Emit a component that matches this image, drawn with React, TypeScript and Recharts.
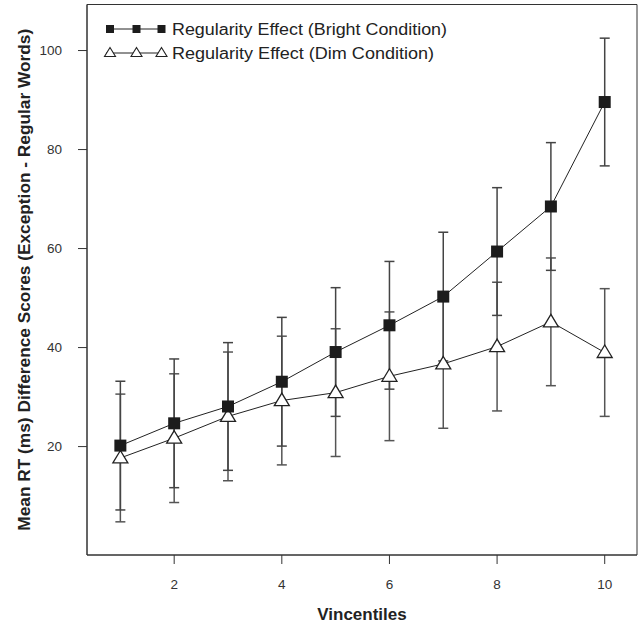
import React from 'react';
import { LineChart, Line, XAxis, YAxis, ErrorBar, ReferenceArea } from 'recharts';

const vincentiles = [1, 2, 3, 4, 5, 6, 7, 8, 9, 10];
const bright = [20.2, 24.7, 28.1, 33.1, 39.1, 44.5, 50.3, 59.4, 68.5, 89.6];
const brightErr = [13.0, 13.0, 12.9, 13.0, 13.0, 12.9, 13.0, 12.9, 12.9, 12.9];
const dim = [17.7, 21.7, 26.1, 29.3, 30.9, 34.2, 36.7, 40.2, 45.2, 39.0];
const dimErr = [12.9, 13.0, 13.0, 13.0, 12.9, 13.0, 13.0, 13.0, 12.9, 12.9];
const xTicks = [2, 4, 6, 8, 10];
const yTicks = [20, 40, 60, 80, 100];

const data = vincentiles.map((v, i) => ({
  v,
  bright: bright[i],
  brightErr: brightErr[i],
  dim: dim[i],
  dimErr: dimErr[i],
}));

const FONT = 'Arial, "Liberation Sans", sans-serif';
const INK = '#222';

function SquareDot(props: any) {
  const { cx, cy, index } = props;
  if (cx == null || cy == null) return null;
  return <rect key={`s-${index}`} x={cx - 6} y={cy - 6} width={12} height={12} fill="#1c1c1c" />;
}

function TriangleDot(props: any) {
  const { cx, cy, index } = props;
  if (cx == null || cy == null) return null;
  return (
    <polygon
      key={`t-${index}`}
      points={`${cx},${cy - 7.5} ${cx - 7.5},${cy + 5} ${cx + 7.5},${cy + 5}`}
      fill="#fff"
      stroke={INK}
      strokeWidth={1.3}
    />
  );
}

function LegendBox() {
  return (
    <svg width={520} height={70} style={{ position: 'absolute', left: 0, top: 0 }}>
      <line x1={106} x2={162} y1={29} y2={29} stroke={INK} strokeWidth={1} />
      {[110, 136.5, 161.5].map((x) => (
        <rect key={x} x={x - 4} y={25} width={8} height={8} fill="#1c1c1c" />
      ))}
      <line x1={106} x2={162} y1={53} y2={53} stroke={INK} strokeWidth={1} />
      {[110, 136.5, 161.5].map((x) => (
        <polygon
          key={x}
          points={`${x},${47.5} ${x - 5.5},${56.5} ${x + 5.5},${56.5}`}
          fill="#fff"
          stroke={INK}
          strokeWidth={1.1}
        />
      ))}
      <text x={172} y={35} fontSize={16} fontFamily={FONT} fill={INK} textLength={275} lengthAdjust="spacingAndGlyphs">
        Regularity Effect (Bright Condition)
      </text>
      <text x={172} y={59} fontSize={16} fontFamily={FONT} fill={INK} textLength={262} lengthAdjust="spacingAndGlyphs">
        Regularity Effect (Dim Condition)
      </text>
    </svg>
  );
}

export default function App() {
  const xDomain: [number, number] = [0.38, 10.6];
  const yDomain: [number, number] = [-1.9, 109.3];
  return (
    <div style={{ position: 'absolute', left: 0, top: 0, width: 641, height: 626, background: '#fff' }}>
      <LineChart
        width={641}
        height={626}
        data={data}
        margin={{ top: 4.5, right: 4, left: 27, bottom: 41 }}
      >
        <XAxis
          dataKey="v"
          type="number"
          domain={xDomain}
          ticks={xTicks}
          allowDataOverflow
          stroke="#333"
          tickSize={9}
          tickMargin={15}
          tick={{ fontSize: 13.5, fill: '#333', fontFamily: FONT }}
          label={{
            value: 'Vincentiles',
            position: 'center',
            dy: 44,
            style: { fontSize: 17, fontWeight: 'bold', fill: INK, fontFamily: FONT },
          }}
        />
        <YAxis
          type="number"
          domain={yDomain}
          ticks={yTicks}
          allowDataOverflow
          width={60}
          stroke="#333"
          tickSize={9}
          tickMargin={16}
          tick={{ fontSize: 13.5, fill: '#333', fontFamily: FONT }}
          label={{
            value: 'Mean RT (ms) Difference Scores (Exception - Regular Words)',
            angle: -90,
            position: 'center',
            dx: -33,
            style: { fontSize: 17.3, fontWeight: 'bold', fill: INK, fontFamily: FONT, textAnchor: 'middle' },
          }}
        />
        <ReferenceArea
          x1={xDomain[0]}
          x2={xDomain[1]}
          y1={yDomain[0]}
          y2={yDomain[1]}
          fill="none"
          fillOpacity={0}
          stroke="#333"
          strokeWidth={1}
          ifOverflow="visible"
        />
        <Line dataKey="dim" stroke="none" dot={false} activeDot={false} legendType="none" isAnimationActive={false}>
          <ErrorBar dataKey="dimErr" direction="y" width={5} stroke="#555" strokeWidth={1.5} />
        </Line>
        <Line dataKey="bright" stroke="none" dot={false} activeDot={false} legendType="none" isAnimationActive={false}>
          <ErrorBar dataKey="brightErr" direction="y" width={5} stroke="#444" strokeWidth={1.5} />
        </Line>
        <Line
          type="linear"
          dataKey="dim"
          stroke={INK}
          strokeWidth={1}
          dot={TriangleDot}
          activeDot={false}
          isAnimationActive={false}
        />
        <Line
          type="linear"
          dataKey="bright"
          stroke={INK}
          strokeWidth={1}
          dot={SquareDot}
          activeDot={false}
          isAnimationActive={false}
        />
      </LineChart>
      <LegendBox />
    </div>
  );
}
